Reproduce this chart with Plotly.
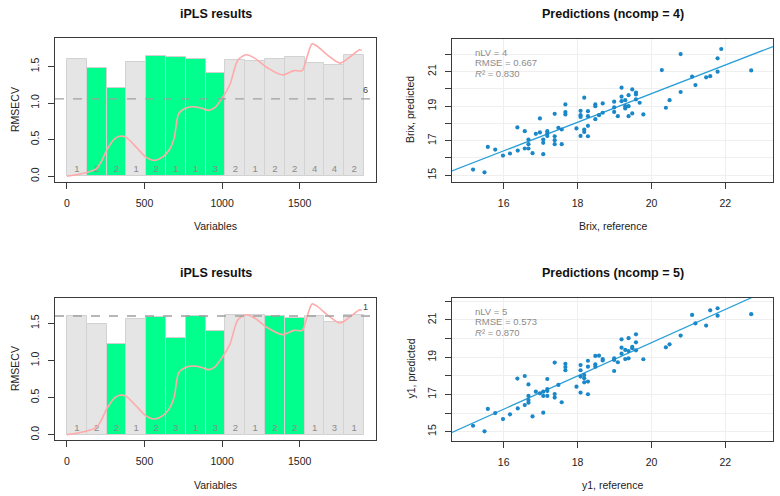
import plotly.graph_objects as go

W, H = 780, 496
FONT = "Liberation Sans, Arial, sans-serif"

# ---------------- iPLS data ----------------
n_vars = 1915
n_int = 15
rmsecv_top = [1.60, 1.486, 1.209, 1.56, 1.638, 1.624, 1.606, 1.412, 1.587, 1.574, 1.60, 1.624, 1.55, 1.518, 1.652]
ncomp_top = [1, 2, 2, 1, 2, 1, 1, 3, 2, 1, 2, 2, 4, 4, 2]
selected_top = [2, 3, 5, 6, 7, 8]
global_top = 1.057
global_ncomp_top = 6

rmsecv_bot = [1.599, 1.495, 1.216, 1.563, 1.59, 1.306, 1.599, 1.396, 1.608, 1.608, 1.599, 1.577, 1.599, 1.518, 1.608]
ncomp_bot = [1, 2, 2, 1, 2, 3, 1, 3, 2, 1, 2, 2, 1, 3, 1]
selected_bot = [3, 5, 6, 7, 8, 11, 12]
global_bot = 1.599
global_ncomp_bot = 1

spec_x = [0, 85, 150, 190, 222, 255, 307, 340, 382, 445, 510, 562, 615, 657, 690, 721, 763, 805, 869, 912,
          954, 1007, 1050, 1102, 1155, 1209, 1293, 1389, 1463, 1516, 1548, 1580, 1611, 1686, 1760, 1823, 1887, 1900]
spec_y = [0.0, 0.03, 0.065, 0.10, 0.20, 0.35, 0.51, 0.546, 0.53, 0.40, 0.26, 0.216, 0.26, 0.35, 0.51, 0.86, 0.93, 0.95, 0.93, 0.90,
          0.94, 1.09, 1.25, 1.59, 1.66, 1.615, 1.48, 1.385, 1.444, 1.444, 1.637, 1.81, 1.78, 1.646, 1.546, 1.63, 1.73, 1.72]

# ---------------- prediction data ----------------
ref_top = [15.17, 15.48, 15.57, 15.77, 15.98, 16.17, 16.37, 16.38, 16.57, 16.57, 16.67, 16.67, 16.67, 16.78, 16.87,
           16.98, 16.98, 17.07, 17.07, 17.07, 17.18, 17.18, 17.18, 17.38, 17.38, 17.38, 17.38, 17.48, 17.57, 17.57,
           17.67, 17.67, 17.67, 17.97, 18.08, 18.08, 18.08, 18.08, 18.18, 18.18, 18.18, 18.28, 18.28, 18.28, 18.28,
           18.48, 18.48, 18.48, 18.58, 18.68, 18.68, 18.99, 18.99, 18.99, 19.09, 19.19, 19.19, 19.19, 19.29, 19.29,
           19.29, 19.38, 19.38, 19.38, 19.48, 19.48, 19.58, 19.58, 19.58, 19.68, 19.78, 20.28, 20.39, 20.49, 20.79,
           20.79, 21.10, 21.19, 21.48, 21.59, 21.79, 21.79, 21.89, 22.70]
pred_top = [15.33, 15.17, 16.64, 16.49, 16.14, 16.26, 17.77, 16.43, 17.55, 16.55, 17.07, 16.80, 16.55, 16.28, 17.40,
            18.29, 17.48, 17.07, 16.88, 16.22, 17.55, 17.42, 17.28, 18.56, 17.26, 17.03, 16.80, 17.75, 17.65, 16.80,
            19.10, 18.66, 18.52, 17.71, 18.73, 18.48, 18.38, 17.28, 19.49, 17.65, 17.51, 18.71, 18.42, 17.86, 17.26,
            19.10, 19.00, 18.25, 18.48, 19.16, 18.62, 19.26, 18.93, 18.67, 18.42, 20.07, 19.55, 19.29, 19.35, 19.00,
            18.87, 19.64, 19.00, 18.42, 19.97, 18.58, 19.78, 19.68, 19.39, 19.20, 18.52, 21.09, 18.91, 19.35, 22.02,
            19.82, 20.71, 20.22, 20.67, 20.74, 21.77, 21.00, 22.31, 21.07]
fit_top = (3.147, 0.829)   # intercept, slope

ref_bot = [15.17, 15.48, 15.57, 15.77, 15.98, 16.17, 16.37, 16.38, 16.57, 16.57, 16.67, 16.67, 16.67, 16.67, 16.78,
           16.87, 16.98, 17.07, 17.07, 17.07, 17.18, 17.18, 17.18, 17.18, 17.38, 17.38, 17.38, 17.48, 17.57, 17.67,
           17.67, 17.67, 17.97, 18.08, 18.08, 18.08, 18.08, 18.18, 18.18, 18.18, 18.28, 18.28, 18.28, 18.28, 18.48,
           18.48, 18.48, 18.58, 18.68, 18.68, 18.99, 18.99, 18.99, 19.09, 19.19, 19.19, 19.19, 19.29, 19.29, 19.38,
           19.38, 19.38, 19.48, 19.48, 19.58, 19.58, 19.58, 19.78, 20.39, 20.49, 20.79, 21.10, 21.19, 21.48, 21.59,
           21.79, 21.79, 22.70]
pred_bot = [15.32, 15.02, 16.22, 16.00, 15.68, 15.93, 17.85, 16.25, 17.99, 16.43, 17.54, 16.92, 16.70, 16.56, 15.82,
            17.15, 17.06, 17.15, 16.92, 16.02, 17.83, 17.29, 17.19, 16.92, 18.71, 17.02, 16.83, 17.51, 16.58, 18.65,
            18.47, 18.30, 17.42, 18.58, 18.30, 17.96, 17.10, 18.04, 17.87, 17.65, 18.81, 18.49, 17.69, 17.01, 19.07,
            18.62, 18.49, 19.08, 18.90, 18.83, 18.94, 18.85, 18.26, 18.73, 19.96, 19.51, 19.19, 19.39, 18.90, 20.02,
            19.33, 18.94, 19.55, 19.48, 20.23, 19.80, 19.37, 18.89, 19.53, 19.69, 20.16, 21.27, 20.82, 20.70, 21.52,
            21.63, 21.23, 21.31]
fit_bot = (1.92, 0.893)

stats_top = ["nLV = 4", "RMSE = 0.667", "<i>R</i>² = 0.830"]
stats_bot = ["nLV = 5", "RMSE = 0.573", "<i>R</i>² = 0.870"]

# ---------------- layout geometry ----------------
def px_x(v):
    return v / W

def px_y(v):
    return 1 - v / H

boxes = {
    "tl": (55, 376, 38, 182),
    "tr": (452, 773, 39, 182),
    "bl": (55, 376, 298, 440),
    "br": (452, 773, 298, 441),
}

GREEN = "#00FF8C"
GREY = "#E5E5E5"
EDGE = "#D2D2D2"
PINK = "#FFAAAA"
BLUE = "#1987C8"
LINEBLUE = "#2A9FD8"

fig = go.Figure()

width = n_vars / n_int
centers = [(i + 0.5) * width for i in range(n_int)]


def ipls_panel(xa, ya, rmse, ncomp, sel, glob, gcomp):
    colors = [GREEN if (i + 1) in sel else GREY for i in range(n_int)]
    fig.add_trace(go.Bar(x=centers, y=rmse, width=[width] * n_int, marker=dict(color=colors, line=dict(color=EDGE, width=1)),
                         xaxis=xa, yaxis=ya, showlegend=False, hoverinfo="skip"))
    fig.add_trace(go.Scatter(x=centers, y=[0.085] * n_int, mode="text", text=[str(c) for c in ncomp],
                             textfont=dict(family=FONT, size=9.5, color="#8a8a8a"), xaxis=xa, yaxis=ya,
                             showlegend=False, hoverinfo="skip"))
    scale = max(rmse) / max(rmsecv_top)
    fig.add_trace(go.Scatter(x=spec_x, y=[v * scale for v in spec_y], mode="lines",
                             line=dict(color=PINK, width=1.6, shape="spline", smoothing=0.8),
                             xaxis=xa, yaxis=ya, showlegend=False, hoverinfo="skip"))
    fig.add_shape(type="line", xref=f"{xa} domain", yref=ya, x0=0, x1=1, y0=glob, y1=glob,
                  line=dict(color="#A0A0A0", width=1.4, dash="dash"))
    fig.add_annotation(x=1925, y=glob, xref=xa, yref=ya, text=str(gcomp), showarrow=False, yshift=9,
                       font=dict(family=FONT, size=9, color="#444"))


ipls_panel("x", "y", rmsecv_top, ncomp_top, selected_top, global_top, global_ncomp_top)
ipls_panel("x3", "y3", rmsecv_bot, ncomp_bot, selected_bot, global_bot, global_ncomp_bot)


def pred_panel(xa, ya, ref, pred, fit, stats, box):
    x0r, x1r = 14.6, 23.29
    fig.add_trace(go.Scatter(x=[x0r, x1r], y=[fit[0] + fit[1] * x0r, fit[0] + fit[1] * x1r], mode="lines",
                             line=dict(color=LINEBLUE, width=1.2), xaxis=xa, yaxis=ya, showlegend=False,
                             hoverinfo="skip"))
    fig.add_trace(go.Scatter(x=ref, y=pred, mode="markers", marker=dict(color=BLUE, size=4.2),
                             xaxis=xa, yaxis=ya, showlegend=False))
    l, r, t, b = box
    for i, s in enumerate(stats):
        fig.add_annotation(x=px_x(l + 21), y=px_y(t + 13 + i * 10.7), xref="paper", yref="paper", text=s,
                           showarrow=False, xanchor="left", yanchor="middle",
                           font=dict(family=FONT, size=9.5, color="#8c8c8c"))


pred_panel("x2", "y2", ref_top, pred_top, fit_top, stats_top, boxes["tr"])
pred_panel("x4", "y4", ref_bot, pred_bot, fit_bot, stats_bot, boxes["br"])

common_axis = dict(showline=True, mirror=True, linecolor="#3a3a3a", linewidth=1, ticks="outside", ticklen=6,
                   tickcolor="#3a3a3a", tickfont=dict(family=FONT, size=10.5, color="#222"), zeroline=False,
                   ticklabelstandoff=5)


def dom(box):
    l, r, t, b = box
    return [px_x(l), px_x(r)], [px_y(b), px_y(t)]


layout = {}
for key, (xa, ya) in {"tl": ("xaxis", "yaxis"), "tr": ("xaxis2", "yaxis2"), "bl": ("xaxis3", "yaxis3"),
                      "br": ("xaxis4", "yaxis4")}.items():
    xd, yd = dom(boxes[key])
    anchor_x = "y" + xa[5:]
    anchor_y = "x" + ya[5:]
    layout[xa] = dict(common_axis, domain=xd, anchor=anchor_x)
    layout[ya] = dict(common_axis, domain=yd, anchor=anchor_y, tickangle=-90)

ipls_x = dict(range=[-76.6, 1991.6], tickvals=[0, 500, 1000, 1500], showgrid=False)
layout["xaxis"].update(ipls_x)
layout["xaxis3"].update(ipls_x)
layout["yaxis"].update(range=[-0.08, 1.89], tickvals=[0, 0.5, 1.0, 1.5], tickformat=".1f", showgrid=False)
layout["yaxis3"].update(range=[-0.072, 1.842], tickvals=[0, 0.5, 1.0, 1.5], tickformat=".1f", showgrid=False)

ytv = list(range(15, 23))
ytt = [str(v) if v % 2 == 1 else "" for v in ytv]
grid = dict(showgrid=True, gridcolor="#EFEFEF", gridwidth=1)
layout["xaxis2"].update(range=[14.6, 23.29], tickvals=[16, 18, 20, 22], **grid)
layout["xaxis4"].update(range=[14.6, 23.29], tickvals=[16, 18, 20, 22], **grid)
layout["yaxis2"].update(range=[14.61, 22.89], tickvals=ytv, ticktext=ytt, **grid)
layout["yaxis4"].update(range=[14.5, 22.18], tickvals=ytv, ticktext=ytt, **grid)

fig.update_layout(width=W, height=H, margin=dict(l=0, r=0, t=0, b=0), paper_bgcolor="white",
                  plot_bgcolor="white", bargap=0, showlegend=False, **layout)

# titles and axis titles
texts = [
    ("iPLS results", 215.5, 14, 0, True),
    ("Predictions (ncomp = 4)", 612.5, 14, 0, True),
    ("iPLS results", 215.5, 273, 0, True),
    ("Predictions (ncomp = 5)", 612.5, 273, 0, True),
    ("Variables", 215.5, 226, 0, False),
    ("Brix, reference", 612.5, 226, 0, False),
    ("Variables", 215.5, 485, 0, False),
    ("y1, reference", 612.5, 485, 0, False),
    ("RMSECV", 15, 110, -90, False),
    ("Brix, predicted", 410, 110, -90, False),
    ("RMSECV", 15, 369, -90, False),
    ("y1, predicted", 410.5, 369, -90, False),
]
for txt, sx, sy, ang, bold in texts:
    fig.add_annotation(x=px_x(sx), y=px_y(sy), xref="paper", yref="paper", showarrow=False, textangle=ang,
                       text=f"<b>{txt}</b>" if bold else txt, xanchor="center", yanchor="middle",
                       font=dict(family=FONT, size=12.5 if bold else 10.5, color="#111" if bold else "#222"))

fig.write_html("out.html", config={"displayModeBar": False},
               post_script="document.body.style.margin='0';document.body.style.overflow='hidden';")
